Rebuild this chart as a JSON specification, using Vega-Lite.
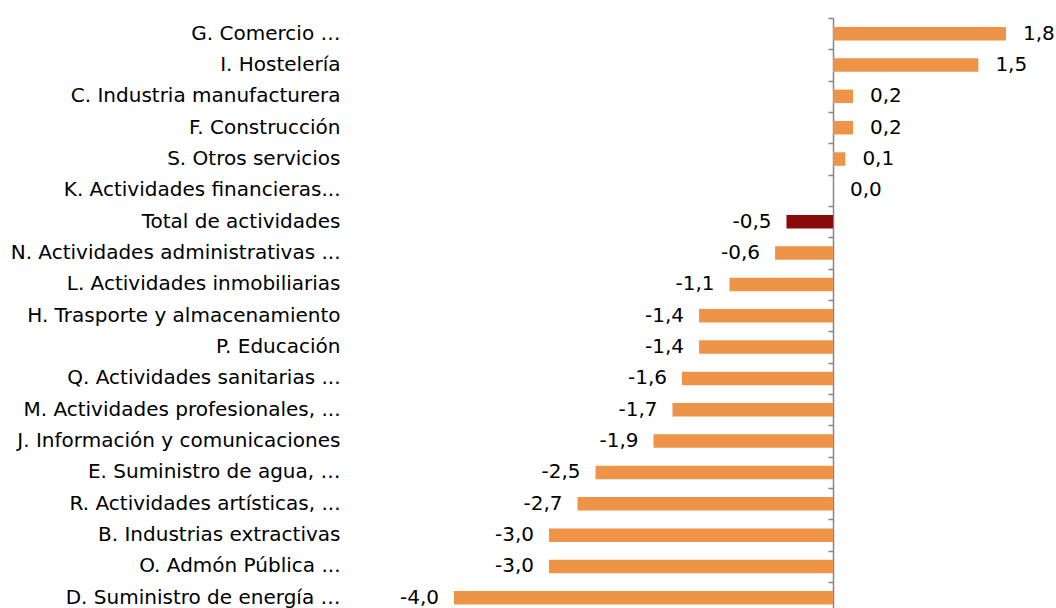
{
  "$schema": "https://vega.github.io/schema/vega-lite/v6.json",
  "width": 705,
  "height": 595.5,
  "autosize": {"type": "none"},
  "padding": {"left": 351, "top": 18, "right": 0, "bottom": 0},
  "background": "white",
  "config": {
    "view": {"stroke": null},
    "locale": {"number": {"decimal": ",", "thousands": ".", "grouping": [3], "currency": ["", " €"], "minus": "-"}},
    "font": "DejaVu Sans"
  },
  "data": {"values": [
    {"cat": "G. Comercio …", "v": 1.82},
    {"cat": "I. Hostelería", "v": 1.53},
    {"cat": "C. Industria manufacturera", "v": 0.21},
    {"cat": "F. Construcción", "v": 0.21},
    {"cat": "S. Otros servicios", "v": 0.13},
    {"cat": "K. Actividades financieras...", "v": 0.0},
    {"cat": "Total de actividades", "v": -0.49},
    {"cat": "N. Actividades administrativas ...", "v": -0.61},
    {"cat": "L. Actividades inmobiliarias", "v": -1.09},
    {"cat": "H. Trasporte y almacenamiento", "v": -1.41},
    {"cat": "P. Educación", "v": -1.41},
    {"cat": "Q. Actividades sanitarias ...", "v": -1.59},
    {"cat": "M. Actividades profesionales, ...", "v": -1.69},
    {"cat": "J. Información y comunicaciones", "v": -1.89},
    {"cat": "E. Suministro de agua, …", "v": -2.5},
    {"cat": "R. Actividades artísticas, ...", "v": -2.69},
    {"cat": "B. Industrias extractivas", "v": -2.99},
    {"cat": "O. Admón Pública ...", "v": -2.99},
    {"cat": "D. Suministro de energía …", "v": -3.99}
  ]},
  "encoding": {
    "y": {"field": "cat", "type": "nominal", "sort": null, "scale": {"padding": 0}},
    "x": {"field": "v", "type": "quantitative", "scale": {"domain": [-5.074, 2.347], "nice": false, "zero": false}, "axis": null}
  },
  "layer": [
    {
      "mark": {"type": "bar", "height": 13.5},
      "encoding": {
        "y": {"field": "cat", "type": "nominal", "sort": null, "scale": {"padding": 0}, "title": null,
          "axis": {"domain": false, "ticks": false, "labelPadding": 11, "labelFontSize": 20, "labelColor": "#000000", "labelFont": "DejaVu Sans", "labelLimit": 400}},
        "color": {"condition": {"test": "datum.cat === 'Total de actividades'", "value": "#8B0A0A"}, "value": "#EE9448"}
      }
    },
    {
      "mark": {"type": "bar", "height": 13.5, "opacity": 0},
      "encoding": {
        "y": {"field": "cat", "type": "nominal", "sort": null, "scale": {"padding": 0}, "title": null,
          "axis": {"orient": "left", "offset": -482, "labels": false, "domain": true, "domainColor": "#868686", "domainWidth": 1.5, "ticks": true, "tickBand": "extent", "tickSize": 5, "tickColor": "#868686", "tickWidth": 1.5, "grid": false}}
      }
    },
    {
      "transform": [{"filter": "datum.v >= 0"}],
      "mark": {"type": "text", "align": "left", "baseline": "middle", "dx": 17, "fontSize": 20, "color": "#000000"},
      "encoding": {"text": {"field": "v", "type": "quantitative", "format": ".1f"}}
    },
    {
      "transform": [{"filter": "datum.v < 0"}],
      "mark": {"type": "text", "align": "right", "baseline": "middle", "dx": -15, "fontSize": 20, "color": "#000000"},
      "encoding": {"text": {"field": "v", "type": "quantitative", "format": ".1f"}}
    }
  ],
  "resolve": {"axis": {"y": "independent"}}
}
